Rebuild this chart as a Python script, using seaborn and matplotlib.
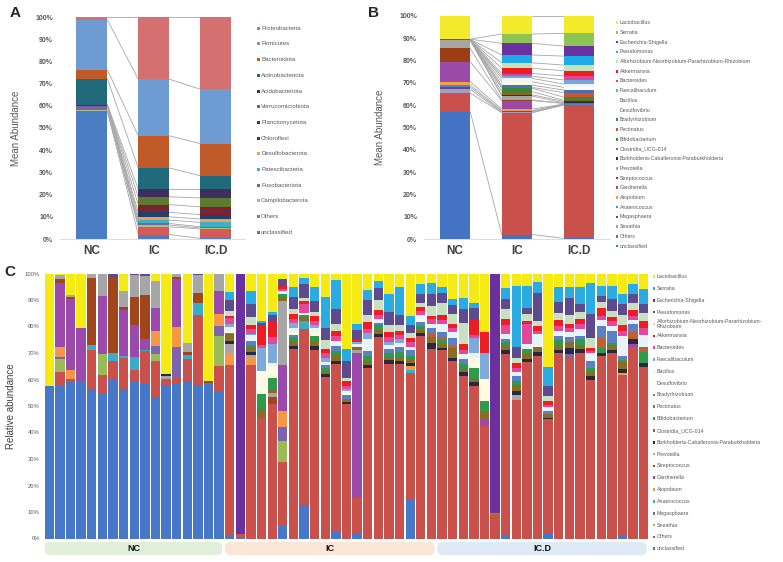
import numpy as np
import pandas as pd
import matplotlib
matplotlib.use("Agg")
import matplotlib.pyplot as plt
from matplotlib.patches import Rectangle, FancyBboxPatch
import seaborn as sns

sns.set_theme(style="white")
plt.rcParams["font.family"] = ["Liberation Sans", "DejaVu Sans"]

W, H = 783, 562

# -----------------------------
# Panel A data (phyla, mean abundance %)  -- bottom to top
# -----------------------------
groups = ["NC", "IC", "IC.D"]
phyla = ["unclassified", "Others", "Campilobacterota", "Fusobacteriota", "Patescibacteria",
         "Desulfobacterota", "Chloroflexi", "Planctomycetota", "Verrucomicrobiota",
         "Acidobacteriota", "Actinobacteriota", "Bacteroidota", "Firmicutes", "Proteobacteria"]
phyla_nc = [57.5, 0.3, 0.1, 2.0, 0.1, 0.1, 0.1, 0.1, 0.1, 0.1, 11.7, 4.0, 22.5, 1.3]
phyla_ic = [2.0, 3.5, 0.8, 0.7, 1.5, 1.5, 2.0, 3.5, 3.5, 3.5, 9.5, 14.5, 25.5, 28.0]
phyla_icd = [0.3, 4.2, 0.5, 0.5, 2.0, 1.5, 2.0, 3.5, 4.0, 4.0, 6.0, 14.5, 24.5, 32.5]
phyla_colors = ["#4B7DC5", "#D65A56", "#A9C27A", "#7E5FAA", "#3FB0C8", "#F2A04E", "#22406E",
                "#7B2230", "#5E7A30", "#3F2F5E", "#206A7C", "#C05A28", "#6E9BD2", "#D47170"]

# -----------------------------
# Genera (bottom to top of stack)
# -----------------------------
genera = ["unclassified", "Others", "Sneathia", "Megasphaera", "Anaerococcus", "Atopobium",
          "Gardnerella", "Streptococcus", "Prevotella", "Burkholderia-Caballeronia-Paraburkholderia",
          "Clostridia_UCG-014", "Bifidobacterium", "Pectinatus", "Bradyrhizobium", "Desulfovibrio",
          "Bacillus", "Faecalibaculum", "Bacteroides", "Akkermansia",
          "Allorhizobium-Neorhizobium-Pararhizobium-Rhizobium", "Pseudomonas",
          "Escherichia-Shigella", "Serratia", "Lactobacillus"]

# Panel B data (genera, mean abundance %)
genus_nc = [57.0, 8.4, 1.6, 1.0, 1.0, 1.4, 9.0, 6.0, 3.6, 0.05, 0.05, 0.05, 0.05, 0.05, 0.02,
            0.02, 0.02, 0.02, 0.02, 0.02, 0.05, 0.05, 0.02, 10.6]
genus_ic = [2.0, 54.5, 0.3, 0.4, 0.3, 0.7, 3.8, 0.3, 1.7, 0.6, 1.4, 1.5, 0.4, 1.0, 1.5,
            1.5, 1.0, 1.2, 2.3, 2.5, 3.5, 5.2, 4.2, 8.2]
genus_icd = [0.3, 59.7, 0.1, 0.1, 0.1, 0.1, 0.3, 0.1, 0.2, 0.6, 0.5, 1.4, 2.0, 1.2, 1.2,
             1.5, 1.8, 1.8, 2.4, 2.5, 4.0, 4.5, 5.7, 7.9]
b_colors = ["#4472C4", "#C9504B", "#A79BC0", "#5E4B8B", "#4F86C6", "#F39C4A", "#9A4BA8",
            "#9C3D16", "#A5A5A5", "#333333", "#7E6B2A", "#2F8A3E", "#D0532C", "#4F6FAF",
            "#FDFBE4", "#EEF6FB", "#6FA8DC", "#E0458F", "#EE1C25", "#C9E3B8", "#1FA9E8",
            "#6A329F", "#8DC453", "#F2EA2A"]

# -----------------------------
# Panel C data: relative abundance per sample (17 NC, 20 IC, 20 IC.D)
# -----------------------------
sample_groups = ["NC"] * 17 + ["IC"] * 20 + ["IC.D"] * 20

c_unclassified = [57.4, 57.6, 59.4, 59.3, 56.2, 55.0, 59.9, 56.2, 59.3, 58.7, 53.1, 57.5, 58.6, 59.5, 57.8, 58.4, 55.3,
                  0.8, 0.5, 0, 0, 0, 5.2, 0, 12.4, 0, 0, 2.6, 0, 2.0, 0, 0, 0, 0, 14.0, 0, 0,
                  0, 0, 0, 0, 0, 0, 1.0, 0, 0, 0, 2.0, 0, 0, 0, 0, 0, 0, 1.2, 0, 0]
c_others = [0, 5.4, 0.9, 0, 15.1, 6.6, 7.0, 11.9, 4.4, 12.0, 13.8, 2.7, 2.0, 8.1, 26.7, 0.4, 9.7,
            64.8, 1.2, 65.6, 45.5, 50.0, 23.6, 69.0, 64.3, 70.0, 60.0, 63.3, 50.6, 13.3, 63.1, 75.8, 64.0, 65.0, 46.6, 73.3, 69.5,
            70.0, 66.3, 61.3, 57.5, 42.4, 8.3, 67.9, 53.1, 67.0, 68.9, 42.3, 67.6, 66.3, 68.4, 60.0, 68.9, 70.0, 60.3, 71.4, 64.4]
c_sneathia = [0, 4.6, 0, 0, 0, 8.0, 0, 0, 0, 0, 2.7, 0, 0, 0, 0, 0, 11.3,
              0, 0, 0, 0, 0, 7.9, 0, 0, 0, 0, 0, 0, 0, 0, 0, 0, 0, 0, 0, 0,
              0, 0, 0, 0, 0, 0, 0, 0, 0, 0, 0, 0, 0, 0, 0, 0, 0, 0, 0, 0]
c_megasphaera = [0, 1.0, 0, 0, 0, 0, 0, 0, 0, 0, 2.9, 0, 11.5, 0, 0, 0, 3.8,
                 0, 0, 0, 0, 0, 5.0, 0, 0, 0, 0, 0, 0, 0, 0, 0, 0, 0, 0, 0, 0,
                 0, 0, 0, 0, 0, 0, 0, 0, 0, 0, 0, 0, 1.0, 0, 0, 0, 0, 0, 0, 0]
c_anaerococcus = [0, 0, 0, 0, 1.8, 0, 3.1, 0.6, 4.7, 0.6, 0, 0, 0, 1.7, 4.4, 0, 0,
                  0, 0, 0, 0, 0, 0, 0, 3.0, 0, 0, 0, 0, 0, 0, 0, 0, 0, 1.3, 0, 0,
                  0, 0, 0, 0, 0, 0, 0, 0, 0, 0, 0, 0, 0, 0, 0, 0, 0, 0, 0, 0]
c_atopobium = [0, 3.8, 3.1, 0, 0, 0, 0, 0, 0, 0, 5.9, 0, 7.9, 0, 0, 0, 4.6,
               4.5, 0, 3.1, 0, 0, 6.3, 0, 0, 0, 0, 0, 0, 0, 0, 0, 0, 0, 1.3, 0, 0,
               0, 0, 0, 0, 0, 0, 0, 0, 0, 0, 0, 0, 0, 0, 0, 0, 0, 0.8, 0, 0]
c_gardnerella = [0, 24.0, 26.9, 20.3, 0, 21.8, 0, 17.6, 12.0, 4.1, 8.6, 0, 18.1, 0, 0, 0, 8.6,
                 0, 0, 0, 0, 0, 17.1, 0, 0, 0, 0, 0, 0, 54.2, 0, 0, 0, 0, 0, 0, 0,
                 0, 0, 0, 0, 2.8, 0, 0, 0, 0, 0, 0, 0, 0, 0, 0, 0, 0, 0, 1.3, 0]
c_streptococcus = [0, 1.5, 0.8, 0, 25.2, 0, 28.3, 0.9, 10.6, 16.6, 0, 0, 0.5, 0.9, 3.7, 0.6, 0,
                   0, 0, 0, 0, 2.5, 0, 0, 0, 0, 0, 0, 0, 0, 0, 0, 0, 0, 0, 0, 0,
                   0, 0, 0, 0, 0, 0, 0, 0, 0, 0, 0, 0, 0, 0, 0, 0, 0, 0, 0, 0]
c_prevotella = [0, 1.7, 0.9, 0, 1.7, 8.6, 0, 6.1, 8.3, 7.0, 10.3, 1.0, 1.4, 3.4, 6.7, 0, 6.7,
                3.2, 0, 0.9, 0, 1.5, 23.9, 0, 0, 0, 0, 0, 0, 1.0, 0, 0, 0, 0, 0, 0, 0,
                0, 0, 0, 0, 0, 0, 0, 1.9, 0, 0, 0, 0, 0, 0, 0, 0, 0, 0, 0, 0]
c_burkholderia = [0, 0, 0, 0, 0, 0, 0, 0, 0, 0, 0, 0.9, 0, 0, 0, 0, 0,
                  1.2, 0, 1.0, 0, 0, 0, 1.2, 0, 1.3, 1.2, 1.2, 0.9, 0, 1.2, 1.3, 1.2, 1.0, 1.3, 1.0, 1.9,
                  1.0, 1.3, 1.3, 1.3, 0, 0, 1.3, 1.3, 1.0, 1.5, 0.6, 1.0, 2.0, 1.3, 1.3, 1.0, 1.3, 1.3, 1.9, 1.3]
c_clostridia = [0, 0, 0, 0, 0, 0, 0, 0, 0, 0, 0, 0, 0, 0, 0, 0, 0,
                2.5, 0, 1.9, 3.2, 1.5, 1.5, 1.5, 1.0, 1.8, 1.0, 1.8, 1.3, 1.3, 1.3, 1.3, 1.3, 1.6, 1.5, 1.3, 2.5,
                1.5, 3.8, 1.3, 1.3, 2.9, 0, 1.5, 2.5, 2.5, 1.9, 1.3, 1.9, 2.5, 1.5, 1.9, 0, 1.9, 2.5, 0, 0]
c_bifidobacterium = [0, 0, 0, 0, 0, 0, 0, 0, 0, 0, 0, 0, 0, 0, 0, 0, 0,
                     0, 0, 0.8, 5.7, 4.0, 1.3, 1.6, 1.2, 1.9, 1.2, 1.9, 0, 0, 1.9, 1.9, 1.3, 1.6, 1.0, 1.3, 0,
                     1.5, 0, 1.9, 3.8, 3.8, 0, 1.5, 1.3, 1.3, 0, 0, 1.9, 0, 2.3, 1.3, 1.9, 0.8, 1.0, 0, 4.4]
c_pectinatus = [0, 0, 0, 0, 0, 0, 0, 0, 0, 0, 0, 0, 0, 0, 0, 0, 0,
                0, 0, 0, 0, 0, 0, 0, 0, 0, 0, 0, 0, 0, 0, 0, 0, 0, 0, 0, 1.3,
                1.0, 0.6, 0, 0, 0, 0.9, 0, 0, 0, 0, 0, 0, 0, 0, 0, 3.8, 0, 0, 2.5, 1.9]
c_bradyrhizobium = [0, 0, 0, 0, 0, 0, 0, 0, 0, 0, 0, 0, 0, 0, 0, 0, 0,
                    0.5, 0, 1.6, 0, 0, 0, 1.0, 0, 0, 1.3, 1.8, 1.3, 0, 1.9, 0.9, 1.6, 1.9, 2.1, 1.6, 1.9,
                    1.9, 2.9, 1.9, 0, 0, 0, 1.3, 1.9, 0, 0, 1.3, 1.3, 1.5, 1.0, 2.5, 4.4, 4.4, 1.3, 3.1, 0]
c_desulfovibrio = [0, 0, 0, 0, 0, 0, 0, 0, 0, 0, 0, 0, 0, 0, 0, 0, 0,
                   0.5, 0, 0, 8.8, 4.5, 0, 1.0, 0, 1.5, 0, 0, 0.7, 0, 0, 0, 0, 0, 0, 1.0, 0,
                   0, 0, 0, 3.8, 8.4, 0, 0, 0, 0, 0, 0, 0, 0, 0, 0, 0, 0, 0, 0, 0]
c_bacillus = [0, 0, 0, 0, 0, 0, 0, 0, 0, 0, 0, 0, 0, 0, 0, 0, 0,
              2.0, 0, 2.1, 0, 1.2, 1.0, 1.3, 0.9, 1.5, 1.0, 2.0, 0.9, 0.9, 4.3, 1.6, 1.5, 1.6, 1.3, 1.6, 1.5,
              2.9, 2.5, 1.9, 1.9, 0, 0, 1.9, 1.9, 1.9, 5.0, 1.3, 1.9, 2.0, 2.5, 3.2, 2.5, 1.9, 7.5, 1.5, 4.4]
c_faecalibaculum = [0, 0, 0, 0, 0, 0, 0, 0, 0, 0, 0, 0, 0, 0, 0, 0, 0,
                    1.0, 0, 0.5, 8.8, 6.9, 0, 1.8, 0, 1.3, 1.5, 0, 0.8, 0.9, 2.5, 0, 1.0, 1.5, 0, 0, 0,
                    0, 0, 0, 5.7, 9.8, 0, 0, 0, 0, 0, 0, 0, 0, 0, 0, 0, 0, 0, 0, 0]
c_bacteroides = [0, 0, 0, 0, 0, 0, 0, 0, 0, 0, 0, 0, 0, 0, 0, 0, 0,
                 2.2, 0, 1.9, 1.0, 2.5, 0.6, 1.6, 3.2, 1.3, 1.9, 1.7, 1.0, 0, 1.3, 1.5, 1.9, 1.5, 1.5, 1.3, 1.6,
                 1.5, 1.3, 1.3, 1.3, 0, 0.6, 3.2, 1.3, 7.6, 1.0, 1.0, 1.9, 1.5, 1.9, 0.6, 1.3, 1.9, 1.9, 1.5, 2.5]
c_akkermansia = [0, 0, 0, 0, 0, 0, 0, 0, 0, 0, 0, 0, 0, 0, 0, 0, 0,
                 0.6, 0, 1.3, 7.3, 6.0, 1.3, 1.9, 1.2, 1.9, 1.6, 2.0, 1.9, 0.9, 2.5, 1.9, 1.9, 1.6, 1.6, 1.3, 1.3,
                 1.9, 1.6, 2.1, 5.7, 7.9, 0, 2.1, 1.9, 1.3, 1.9, 1.3, 2.1, 1.3, 1.9, 1.3, 3.2, 1.3, 2.5, 2.3, 2.5]
c_allorhizobium = [0, 0, 0, 0, 0, 0, 0, 0, 0, 0, 0, 0, 0, 0, 0, 0, 0,
                   2.2, 0, 3.2, 0, 0, 0, 1.6, 1.0, 1.6, 3.2, 2.6, 1.3, 0, 2.8, 3.7, 2.5, 2.2, 1.9, 1.6, 3.7,
                   4.4, 3.8, 8.2, 0, 0, 0, 3.8, 1.9, 2.5, 1.9, 1.9, 2.5, 3.5, 2.5, 3.8, 2.1, 2.5, 3.8, 2.5, 3.2]
c_pseudomonas = [0, 0, 0, 0, 0, 0, 1.7, 0, 0.7, 1.0, 0, 0, 0, 0, 0.7, 0, 0,
                 3.9, 0, 5.0, 1.0, 2.2, 2.6, 4.4, 5.0, 4.0, 4.4, 5.7, 6.3, 3.5, 5.4, 4.4, 4.7, 3.5, 2.8, 3.3, 4.4,
                 3.8, 3.4, 5.0, 4.4, 0, 0, 3.8, 4.4, 2.5, 10.7, 3.8, 4.2, 5.9, 3.1, 8.8, 2.3, 4.4, 3.8, 3.2, 3.2]
c_escherichia = [0, 0, 0, 0, 0, 0, 0, 0, 0, 0, 0, 0, 0, 0, 0, 0, 0,
                 0, 98.3, 0, 0, 0, 0, 0, 0, 0, 0, 0, 0, 0, 0, 0, 0, 0, 0, 0, 0,
                 0, 0, 0, 0, 0, 90.2, 0, 0, 0, 0, 0, 0, 0, 0, 0, 0, 0, 0, 0, 0]
c_serratia = [0, 0, 0, 0, 0, 0, 0, 0, 0, 0, 0, 0, 0, 0, 0, 0, 0,
              3.1, 0, 4.8, 0.6, 1.3, 0, 3.8, 2.3, 5.2, 11.7, 11.0, 4.4, 2.3, 3.8, 2.8, 6.7, 10.3, 3.5, 3.7, 3.8,
              2.3, 2.1, 4.4, 1.9, 0, 0, 4.2, 23.3, 8.2, 4.0, 6.9, 5.4, 4.2, 6.3, 12.0, 3.8, 5.0, 3.8, 3.8, 5.9]
c_lactobacillus = [42.6, 0.4, 8.0, 20.4, 0, 0, 0, 6.7, 0, 0, 2.7, 37.9, 0, 26.4, 0, 40.6, 0,
                   7.0, 0, 6.7, 18.0, 14.1, 2.1, 4.9, 1.7, 4.9, 8.7, 2.3, 28.6, 18.8, 6.1, 2.7, 7.4, 5.2, 15.5, 3.7, 3.6,
                   4.9, 9.5, 9.1, 11.0, 21.9, 0, 5.3, 4.7, 4.7, 3.2, 34.9, 4.9, 4.9, 4.8, 3.4, 4.7, 4.7, 7.8, 4.0, 5.7]

c_colors = ["#4677C8", "#C9504B", "#9BBB59", "#7C64B0", "#3AACC8", "#F79646", "#9B4AAB",
            "#A0461A", "#A6A6A6", "#262A40", "#8A6D25", "#2E9B4A", "#C06030", "#5E80C2",
            "#FFFBE0", "#E6F4FA", "#7EA9DC", "#E5489A", "#EE1D24", "#C6E0C0", "#5E4A8E",
            "#6B2FA0", "#2AABE2", "#F5EA14"]

# -----------------------------
# Build tables
# -----------------------------
df_a = pd.DataFrame([phyla_nc, phyla_ic, phyla_icd], index=groups, columns=phyla)
df_b = pd.DataFrame([genus_nc, genus_ic, genus_icd], index=groups, columns=genera)
df_c = pd.DataFrame(
    np.array([c_unclassified, c_others, c_sneathia, c_megasphaera, c_anaerococcus, c_atopobium,
              c_gardnerella, c_streptococcus, c_prevotella, c_burkholderia, c_clostridia,
              c_bifidobacterium, c_pectinatus, c_bradyrhizobium, c_desulfovibrio, c_bacillus,
              c_faecalibaculum, c_bacteroides, c_akkermansia, c_allorhizobium, c_pseudomonas,
              c_escherichia, c_serratia, c_lactobacillus]).T,
    columns=genera)
df_c = df_c.div(df_c.sum(axis=1), axis=0) * 100  # relative abundance per sample


def stacked_bars(ax, table, colors, width, series_lines=False):
    x = np.arange(len(table))
    bottom = np.zeros(len(table))
    for col, colr in zip(table.columns, colors):
        vals = table[col].values
        ax.bar(x, vals, width, bottom=bottom, color=colr, linewidth=0, zorder=2)
        bottom = bottom + vals
        if series_lines:
            for i in range(len(x) - 1):
                ax.plot([x[i] + width / 2, x[i + 1] - width / 2], [bottom[i], bottom[i + 1]],
                        color="#A6A6A6", lw=0.6, zorder=1)
    return x


def fx(px):
    return px / W


def fy(py):
    return 1 - py / H


def side_legend(fig, labels, colors, x_px, y_top, y_bot, size, msize=3.0, color="#595959"):
    ys = np.linspace(y_top, y_bot, len(labels))
    for lab, colr, y in zip(labels, colors, ys):
        fig.patches.append(Rectangle((fx(x_px - msize / 2), fy(y + msize / 2)), msize / W, msize / H,
                                     transform=fig.transFigure, facecolor=colr, edgecolor="none"))
        fig.text(fx(x_px + 3), fy(y), lab, fontsize=size, color=color, va="center", ha="left",
                 linespacing=0.85)


def style_mean_axis(ax):
    ax.set_ylim(0, 100)
    ax.set_yticks(range(0, 101, 10))
    ax.set_yticklabels([f"{v}%" for v in range(0, 101, 10)], fontsize=5, fontweight="bold", color="#595959")
    ax.set_xticks(range(3))
    ax.set_xticklabels(groups, fontsize=8.5, fontweight="bold", color="#404040")
    ax.tick_params(axis="y", length=0, pad=5)
    ax.tick_params(axis="x", length=0, pad=4)
    for s in ["top", "right", "left"]:
        ax.spines[s].set_visible(False)
    ax.spines["bottom"].set_color("#D9D9D9")
    ax.spines["bottom"].set_linewidth(0.6)
    ax.set_ylabel("Mean Abundance", fontsize=7, color="#595959", labelpad=10)
    ax.set_facecolor("none")


fig = plt.figure(figsize=(W / 100, H / 100), dpi=100)
fig.patch.set_facecolor("white")

# ---- Panel A ----
ax_a = fig.add_axes([fx(60), fy(239), fx(185), 222 / H])
stacked_bars(ax_a, df_a, phyla_colors, 0.5, series_lines=True)
ax_a.set_xlim(-0.516, 2.476)
style_mean_axis(ax_a)
side_legend(fig, phyla[::-1], phyla_colors[::-1], 258, 28.3, 232.3, 4.4)
fig.text(fx(10), fy(13), "A", fontsize=11, fontweight="bold", va="center", ha="left")

# ---- Panel B ----
ax_b = fig.add_axes([fx(424), fy(239), fx(186), 223.3 / H])
stacked_bars(ax_b, df_b, b_colors, 0.49, series_lines=True)
ax_b.set_xlim(-0.5, 2.5)
style_mean_axis(ax_b)
side_legend(fig, genera[::-1], b_colors[::-1], 617, 22.7, 246, 3.8, msize=2.6)
fig.text(fx(368), fy(13), "B", fontsize=11, fontweight="bold", va="center", ha="left")

# ---- Panel C ----
ax_c = fig.add_axes([fx(44), fy(538.5), fx(605), 265 / H])
xc = stacked_bars(ax_c, df_c, c_colors, 0.88)
ax_c.set_xlim(-0.5, len(df_c) - 0.5)
ax_c.set_ylim(0, 100)
ax_c.set_yticks(range(0, 101, 10))
ax_c.set_yticklabels([f"{v}%" for v in range(0, 101, 10)], fontsize=4.2, color="#595959")
ax_c.tick_params(axis="y", length=0, pad=3)
ax_c.set_xticks([])
sns.despine(ax=ax_c, left=True, bottom=True)
ax_c.set_ylabel("Relative abundance", fontsize=7, color="#404040", labelpad=6)
fig.text(fx(4), fy(272), "C", fontsize=11, fontweight="bold", va="center", ha="left")

# group pills under panel C
ax_p = fig.add_axes([fx(44), fy(556), fx(605), 15 / H])
ax_p.set_xlim(-0.5, len(df_c) - 0.5)
ax_p.set_ylim(0, 1)
ax_p.axis("off")
pill_colors = {"NC": "#E2EFDA", "IC": "#FBE5D6", "IC.D": "#DEEBF7"}
grp = pd.Series(sample_groups)
for g in groups:
    idx = np.where(grp == g)[0]
    x0 = idx.min() - 0.45
    x1 = idx.max() + 0.3
    ax_p.add_patch(FancyBboxPatch((x0, 0.05), x1 - x0, 0.9,
                                  boxstyle="round,pad=0,rounding_size=0.55",
                                  mutation_aspect=0.75, facecolor=pill_colors[g], edgecolor="none"))
    ax_p.text((x0 + x1) / 2, 0.5, g, fontsize=6.5, fontweight="bold", ha="center", va="center",
              color="#111111")

c_labels = [("Allorhizobium-Neorhizobium-Pararhizobium-\nRhizobium" if g.startswith("Allorhizobium") else g)
            for g in genera[::-1]]
side_legend(fig, c_labels, c_colors[::-1], 654, 276.7, 548.7, 3.8, msize=2.6)

fig.savefig("out.png", dpi=100, facecolor="white")
